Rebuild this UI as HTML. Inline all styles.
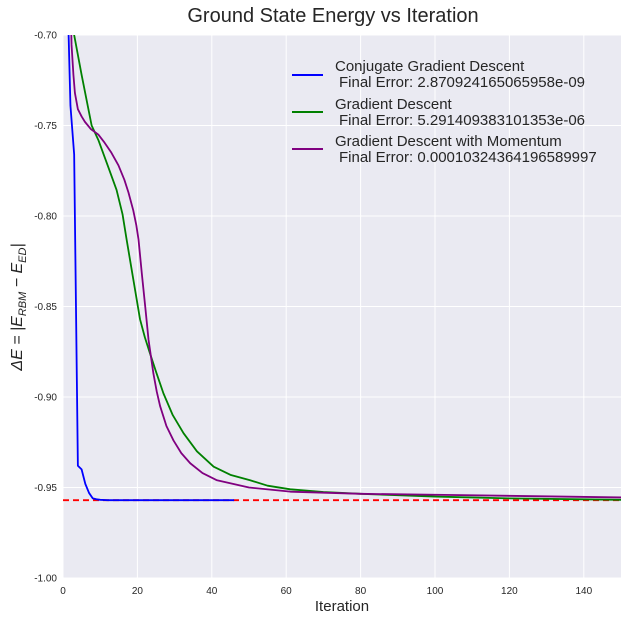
<!DOCTYPE html>
<html><head><meta charset="utf-8"><style>
body{margin:0;background:#fff;}
svg{display:block;font-family:"Liberation Sans",sans-serif;}
</style></head><body>
<svg id="chart" width="628" height="620">
<text x="333" y="22" text-anchor="middle" font-size="20" fill="#262626">Ground State Energy vs Iteration</text>
<rect x="63" y="35" width="558" height="543" fill="#EAEAF2"/>
<g id="grid"></g><g id="ticks"></g>
<svg x="63" y="35" width="558" height="543" overflow="hidden"><g id="series"></g></svg>
<text x="342" y="611" text-anchor="middle" font-size="15" fill="#262626">Iteration</text>
<text transform="translate(22,307) rotate(-90)" text-anchor="middle" font-size="16" fill="#262626" font-style="italic">ΔE = |E<tspan font-size="11" dy="4">RBM</tspan><tspan dy="-4"> − E</tspan><tspan font-size="11" dy="4">ED</tspan><tspan dy="-4">|</tspan></text>
<g id="legend" font-size="15" fill="#262626">
<line x1="292" y1="75" x2="323" y2="75" stroke="#0000ff" stroke-width="2"/>
<text x="335" y="71">Conjugate Gradient Descent</text>
<text x="339" y="87">Final Error: 2.870924165065958e-09</text>
<line x1="292" y1="112" x2="323" y2="112" stroke="#008000" stroke-width="2"/>
<text x="335" y="109">Gradient Descent</text>
<text x="339" y="125">Final Error: 5.291409383101353e-06</text>
<line x1="292" y1="149" x2="323" y2="149" stroke="#800080" stroke-width="2"/>
<text x="335" y="146">Gradient Descent with Momentum</text>
<text x="339" y="162">Final Error: 0.00010324364196589997</text>
</g>
</svg>
<script>
const xTicks=[0,20,40,60,80,100,120,140];
const yTicks=[-0.70,-0.75,-0.80,-0.85,-0.90,-0.95,-1.00];
const cgX=[0,1,2,3,4,5,6,7,8,9,10,12,20,30,46];
const cgY=[-0.55,-0.66,-0.739,-0.766,-0.938,-0.940,-0.948,-0.953,-0.956,-0.9565,-0.9568,-0.957,-0.957,-0.957,-0.957];
const gdX=[1,2,3,5,7.7,9.5,12,14.4,16,17.1,18,18.9,19.8,20.7,22,23.4,25,27,29.5,32.4,36,40.5,45,50.3,55,61.1,70,80,100,120,150];
const gdY=[-0.62,-0.67,-0.70,-0.722,-0.750,-0.758,-0.772,-0.7856,-0.799,-0.813,-0.824,-0.835,-0.846,-0.857,-0.867,-0.876,-0.886,-0.898,-0.910,-0.920,-0.930,-0.9385,-0.943,-0.946,-0.949,-0.951,-0.9525,-0.9535,-0.955,-0.956,-0.9568];
const gdmX=[1.5,2,2.3,2.8,3.2,4,5,5.9,7.5,9.5,11,13,14.9,16.5,17.6,18.9,19.7,20.3,21.2,22.1,23,24.3,25.2,26.1,27.8,29.7,31.8,34.2,37.5,41.4,50,61.1,80,100,150];
const gdmY=[-0.60,-0.68,-0.7055,-0.722,-0.732,-0.741,-0.745,-0.748,-0.752,-0.755,-0.759,-0.765,-0.772,-0.780,-0.787,-0.797,-0.805,-0.813,-0.832,-0.850,-0.8685,-0.887,-0.897,-0.905,-0.916,-0.924,-0.931,-0.9366,-0.942,-0.946,-0.950,-0.9523,-0.9535,-0.954,-0.9555];
const refY=-0.957;
const X=v=>63+v*(558/150), Y=e=>35+(-0.7-e)/0.3*543;
const NS="http://www.w3.org/2000/svg";
function mk(t,a,p){const e=document.createElementNS(NS,t);for(const k in a)e.setAttribute(k,a[k]);p.appendChild(e);return e;}
const grid=document.getElementById('grid'),ticks=document.getElementById('ticks'),ser=document.getElementById('series');
xTicks.forEach(v=>{const l=mk('line',{x1:X(v),x2:X(v),y1:35,y2:578,stroke:'#fff','stroke-width':1},grid);


const t=mk('text',{x:X(v),y:594,'text-anchor':'middle','font-size':10,fill:'#262626'},ticks);t.textContent=v;

});
yTicks.forEach(v=>{const l=mk('line',{x1:63,x2:621,y1:Y(v),y2:Y(v),stroke:'#fff','stroke-width':1},grid);


const t=mk('text',{x:57,y:Y(v)+3.5,'text-anchor':'end','font-size':10,fill:'#262626'},ticks);t.textContent=v.toFixed(2);

});
function line(xs,ys,c,n){const p=mk('polyline',{points:xs.map((x,i)=>(X(x)-63)+','+(Y(ys[i])-35)).join(' '),fill:'none',stroke:c,'stroke-width':1.8,'stroke-linejoin':'round'},ser);

}
const r=mk('line',{x1:0,x2:558,y1:Y(refY)-35,y2:Y(refY)-35,stroke:'#ff0000','stroke-width':1.8,'stroke-dasharray':'6,4'},ser);


line(gdX,gdY,'#008000','gd-line');
line(gdmX,gdmY,'#800080','gdm-line');
line(cgX,cgY,'#0000ff','cg-line');
</script>
</body></html>
